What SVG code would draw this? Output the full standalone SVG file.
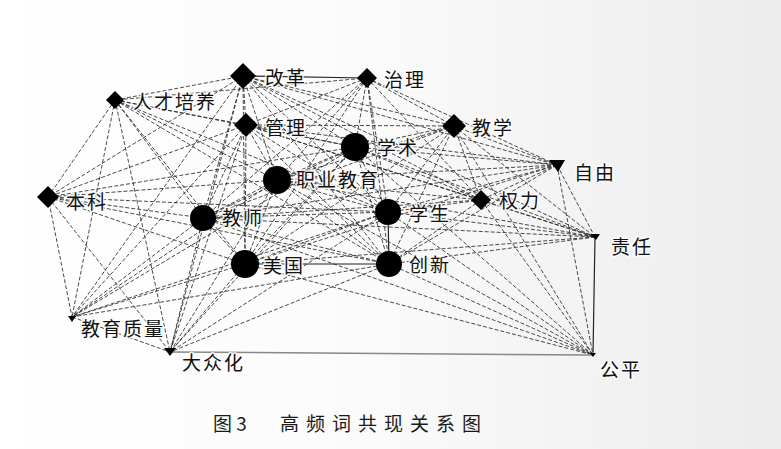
<svg xmlns="http://www.w3.org/2000/svg" width="781" height="449" viewBox="0 0 781 449">
<defs>
<linearGradient id="bg" x1="0" y1="0" x2="1" y2="0">
<stop offset="0" stop-color="#ffffff"/>
<stop offset="0.45" stop-color="#fbfbfb"/>
<stop offset="1" stop-color="#ececec"/>
</linearGradient>
<style>
.e{stroke:#2a2a2a;stroke-width:1;stroke-dasharray:4 2;fill:none;opacity:0.85}
.s{stroke:#222;stroke-width:1.2;fill:none}
.g{stroke:#888;stroke-width:1.5;fill:none}
.n{fill:#000}
.t{font-family:"Noto Sans CJK SC",sans-serif;font-size:19px;fill:#111;letter-spacing:2px;dominant-baseline:central;stroke:#fff;stroke-width:3px;stroke-opacity:0.85;paint-order:stroke;stroke-linejoin:round}
.cap{font-family:"Noto Sans CJK SC",serif;font-size:19px;fill:#1a1a1a;font-weight:400}
</style>
</defs>
<rect width="781" height="449" fill="url(#bg)"/>
<g id="edges">
<line class="s" x1="243" y1="76" x2="367" y2="78"/>
<line class="e" x1="243" y1="76" x2="115" y2="100"/>
<line class="e" x1="243" y1="76" x2="246" y2="125"/>
<line class="e" x1="243" y1="76" x2="355" y2="147"/>
<line class="e" x1="243" y1="76" x2="454" y2="126"/>
<line class="e" x1="243" y1="76" x2="557" y2="165"/>
<line class="e" x1="243" y1="76" x2="277" y2="180"/>
<line class="e" x1="243" y1="76" x2="388" y2="212"/>
<line class="e" x1="243" y1="76" x2="203" y2="218"/>
<line class="e" x1="243" y1="76" x2="245" y2="264"/>
<line class="e" x1="243" y1="76" x2="389" y2="264"/>
<line class="e" x1="243" y1="76" x2="481" y2="200"/>
<line class="e" x1="243" y1="76" x2="595" y2="237"/>
<line class="e" x1="243" y1="76" x2="48" y2="197"/>
<line class="e" x1="243" y1="76" x2="72" y2="317"/>
<line class="e" x1="243" y1="76" x2="170" y2="352"/>
<line class="e" x1="367" y1="78" x2="246" y2="125"/>
<line class="e" x1="367" y1="78" x2="355" y2="147"/>
<line class="e" x1="367" y1="78" x2="454" y2="126"/>
<line class="e" x1="367" y1="78" x2="557" y2="165"/>
<line class="e" x1="367" y1="78" x2="277" y2="180"/>
<line class="e" x1="367" y1="78" x2="388" y2="212"/>
<line class="e" x1="367" y1="78" x2="203" y2="218"/>
<line class="e" x1="367" y1="78" x2="245" y2="264"/>
<line class="e" x1="367" y1="78" x2="389" y2="264"/>
<line class="e" x1="367" y1="78" x2="481" y2="200"/>
<line class="e" x1="367" y1="78" x2="115" y2="100"/>
<line class="e" x1="115" y1="100" x2="246" y2="125"/>
<line class="e" x1="115" y1="100" x2="355" y2="147"/>
<line class="e" x1="115" y1="100" x2="277" y2="180"/>
<line class="e" x1="115" y1="100" x2="48" y2="197"/>
<line class="e" x1="115" y1="100" x2="388" y2="212"/>
<line class="e" x1="115" y1="100" x2="203" y2="218"/>
<line class="e" x1="115" y1="100" x2="72" y2="317"/>
<line class="e" x1="115" y1="100" x2="170" y2="352"/>
<line class="e" x1="115" y1="100" x2="245" y2="264"/>
<line class="e" x1="115" y1="100" x2="389" y2="264"/>
<line class="e" x1="246" y1="125" x2="355" y2="147"/>
<line class="e" x1="246" y1="125" x2="454" y2="126"/>
<line class="e" x1="246" y1="125" x2="557" y2="165"/>
<line class="e" x1="246" y1="125" x2="277" y2="180"/>
<line class="e" x1="246" y1="125" x2="48" y2="197"/>
<line class="e" x1="246" y1="125" x2="388" y2="212"/>
<line class="e" x1="246" y1="125" x2="203" y2="218"/>
<line class="e" x1="246" y1="125" x2="245" y2="264"/>
<line class="e" x1="246" y1="125" x2="389" y2="264"/>
<line class="e" x1="246" y1="125" x2="72" y2="317"/>
<line class="e" x1="246" y1="125" x2="170" y2="352"/>
<line class="e" x1="246" y1="125" x2="481" y2="200"/>
<line class="e" x1="246" y1="125" x2="595" y2="237"/>
<line class="e" x1="355" y1="147" x2="454" y2="126"/>
<line class="e" x1="355" y1="147" x2="557" y2="165"/>
<line class="e" x1="355" y1="147" x2="277" y2="180"/>
<line class="e" x1="355" y1="147" x2="48" y2="197"/>
<line class="e" x1="355" y1="147" x2="388" y2="212"/>
<line class="e" x1="355" y1="147" x2="203" y2="218"/>
<line class="e" x1="355" y1="147" x2="245" y2="264"/>
<line class="e" x1="355" y1="147" x2="389" y2="264"/>
<line class="e" x1="355" y1="147" x2="72" y2="317"/>
<line class="e" x1="355" y1="147" x2="170" y2="352"/>
<line class="e" x1="355" y1="147" x2="481" y2="200"/>
<line class="e" x1="355" y1="147" x2="595" y2="237"/>
<line class="e" x1="355" y1="147" x2="593" y2="355"/>
<line class="e" x1="454" y1="126" x2="557" y2="165"/>
<line class="e" x1="454" y1="126" x2="277" y2="180"/>
<line class="e" x1="454" y1="126" x2="388" y2="212"/>
<line class="e" x1="454" y1="126" x2="203" y2="218"/>
<line class="e" x1="454" y1="126" x2="481" y2="200"/>
<line class="e" x1="454" y1="126" x2="595" y2="237"/>
<line class="e" x1="454" y1="126" x2="389" y2="264"/>
<line class="e" x1="454" y1="126" x2="245" y2="264"/>
<line class="e" x1="454" y1="126" x2="593" y2="355"/>
<line class="e" x1="557" y1="165" x2="277" y2="180"/>
<line class="e" x1="557" y1="165" x2="388" y2="212"/>
<line class="e" x1="557" y1="165" x2="203" y2="218"/>
<line class="e" x1="557" y1="165" x2="481" y2="200"/>
<line class="e" x1="557" y1="165" x2="595" y2="237"/>
<line class="e" x1="557" y1="165" x2="593" y2="355"/>
<line class="e" x1="557" y1="165" x2="245" y2="264"/>
<line class="e" x1="557" y1="165" x2="389" y2="264"/>
<line class="e" x1="277" y1="180" x2="48" y2="197"/>
<line class="e" x1="277" y1="180" x2="388" y2="212"/>
<line class="e" x1="277" y1="180" x2="203" y2="218"/>
<line class="e" x1="277" y1="180" x2="245" y2="264"/>
<line class="e" x1="277" y1="180" x2="389" y2="264"/>
<line class="e" x1="277" y1="180" x2="72" y2="317"/>
<line class="e" x1="277" y1="180" x2="170" y2="352"/>
<line class="e" x1="277" y1="180" x2="481" y2="200"/>
<line class="e" x1="277" y1="180" x2="595" y2="237"/>
<line class="e" x1="277" y1="180" x2="593" y2="355"/>
<line class="e" x1="48" y1="197" x2="203" y2="218"/>
<line class="e" x1="48" y1="197" x2="245" y2="264"/>
<line class="e" x1="48" y1="197" x2="72" y2="317"/>
<line class="e" x1="48" y1="197" x2="170" y2="352"/>
<line class="e" x1="48" y1="197" x2="388" y2="212"/>
<line class="e" x1="48" y1="197" x2="389" y2="264"/>
<line class="e" x1="481" y1="200" x2="388" y2="212"/>
<line class="e" x1="481" y1="200" x2="595" y2="237"/>
<line class="e" x1="481" y1="200" x2="593" y2="355"/>
<line class="e" x1="481" y1="200" x2="389" y2="264"/>
<line class="e" x1="481" y1="200" x2="203" y2="218"/>
<line class="s" x1="388" y1="212" x2="389" y2="264"/>
<line class="e" x1="388" y1="212" x2="203" y2="218"/>
<line class="e" x1="388" y1="212" x2="245" y2="264"/>
<line class="e" x1="388" y1="212" x2="595" y2="237"/>
<line class="e" x1="388" y1="212" x2="593" y2="355"/>
<line class="e" x1="388" y1="212" x2="72" y2="317"/>
<line class="e" x1="388" y1="212" x2="170" y2="352"/>
<line class="e" x1="203" y1="218" x2="245" y2="264"/>
<line class="e" x1="203" y1="218" x2="389" y2="264"/>
<line class="e" x1="203" y1="218" x2="72" y2="317"/>
<line class="e" x1="203" y1="218" x2="170" y2="352"/>
<line class="e" x1="203" y1="218" x2="595" y2="237"/>
<line class="e" x1="203" y1="218" x2="593" y2="355"/>
<line class="s" x1="595" y1="237" x2="593" y2="355"/>
<line class="e" x1="595" y1="237" x2="245" y2="264"/>
<line class="e" x1="595" y1="237" x2="389" y2="264"/>
<line class="s" x1="245" y1="264" x2="389" y2="264"/>
<line class="e" x1="245" y1="264" x2="72" y2="317"/>
<line class="e" x1="245" y1="264" x2="170" y2="352"/>
<line class="e" x1="245" y1="264" x2="593" y2="355"/>
<line class="e" x1="389" y1="264" x2="72" y2="317"/>
<line class="e" x1="389" y1="264" x2="170" y2="352"/>
<line class="e" x1="389" y1="264" x2="593" y2="355"/>
<line class="e" x1="72" y1="317" x2="170" y2="352"/>
<line class="g" x1="170" y1="352" x2="593" y2="355"/>
</g>
<g id="n-gaige"><path class="n" d="M243 63 L256 76 L243 89 L230 76 Z"/><text class="t" x="265" y="76">改革</text></g>
<g id="n-zhili"><path class="n" d="M367 68 L377 78 L367 88 L357 78 Z"/><text class="t" x="384" y="78">治理</text></g>
<g id="n-rencai"><path class="n" d="M115 91 L124 100 L115 109 L106 100 Z"/><text class="t" x="133" y="100">人才培养</text></g>
<g id="n-guanli"><path class="n" d="M246 113 L258 125 L246 137 L234 125 Z"/><text class="t" x="265" y="126">管理</text></g>
<g id="n-xueshu"><circle class="n" cx="355" cy="147" r="14"/><text class="t" x="377" y="146">学术</text></g>
<g id="n-jiaoxue"><path class="n" d="M454 114 L466 126 L454 138 L442 126 Z"/><text class="t" x="472" y="126">教学</text></g>
<g id="n-ziyou"><path class="n" d="M549 160 L565 160 L558 172 Z"/><text class="t" x="574" y="171">自由</text></g>
<g id="n-zhiye"><circle class="n" cx="277" cy="180" r="14"/><text class="t" x="296" y="178">职业教育</text></g>
<g id="n-benke"><path class="n" d="M48 186 L59 197 L48 208 L37 197 Z"/><text class="t" x="66" y="200">本科</text></g>
<g id="n-quanli"><path class="n" d="M481 190 L491 200 L481 210 L471 200 Z"/><text class="t" x="499" y="199">权力</text></g>
<g id="n-xuesheng"><circle class="n" cx="388" cy="212" r="13"/><text class="t" x="409" y="212">学生</text></g>
<g id="n-jiaoshi"><circle class="n" cx="203" cy="218" r="13"/><text class="t" x="222" y="216">教师</text></g>
<g id="n-zeren"><path class="n" d="M590 234 L600 234 L596 240 Z"/><text class="t" x="611" y="245">责任</text></g>
<g id="n-meiguo"><circle class="n" cx="245" cy="264" r="14"/><text class="t" x="263" y="264">美国</text></g>
<g id="n-chuangxin"><circle class="n" cx="389" cy="264" r="13"/><text class="t" x="409" y="263">创新</text></g>
<g id="n-zhiliang"><path class="n" d="M68 316 L76 316 L72 322 Z"/><text class="t" x="81" y="327">教育质量</text></g>
<g id="n-dazhong"><path class="n" d="M164 348 L176 348 L170 356 Z"/><text class="t" x="182" y="361">大众化</text></g>
<g id="n-gongping"><path class="n" d="M590 353 L596 353 L593 357 Z"/><text class="t" x="600" y="368">公平</text></g>
<text class="cap" x="213" y="431">图 3</text>
<text class="cap" x="280" y="431" letter-spacing="7">高频词共现关系图</text>
</svg>
